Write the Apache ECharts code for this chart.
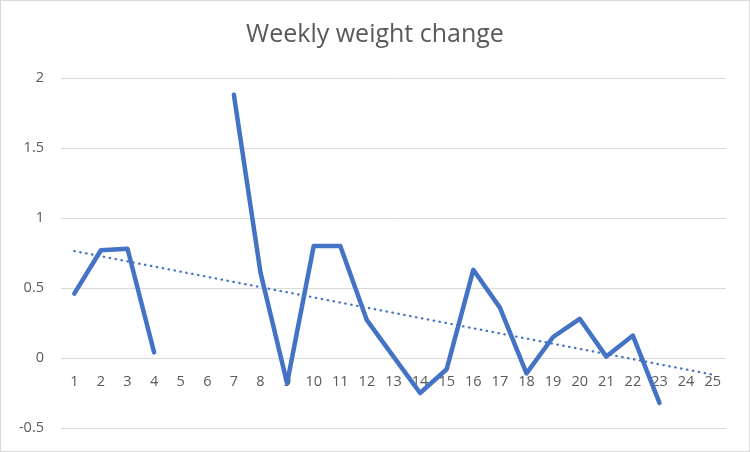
<!DOCTYPE html>
<html>
<head>
<meta charset="utf-8">
<script src="https://cdn.jsdelivr.net/npm/echarts@6/dist/echarts.min.js"></script>
<style>
  html, body { margin: 0; padding: 0; background: #fff; }
  #main { width: 750px; height: 452px; box-sizing: border-box; border: 1px solid #d9d9d9; }
</style>
</head>
<body>
<div id="main"></div>
<script>
// weeks 1..25, blank weeks are null
const weeks = ['1', '2', '3', '4', '5', '6', '7', '8', '9', '10', '11', '12', '13',
  '14', '15', '16', '17', '18', '19', '20', '21', '22', '23', '24', '25']
const weightChange = [0.46, 0.77, 0.78, 0.04, null, null, 1.88, 0.61, -0.18, 0.80, 0.80, 0.27, 0.01,
  -0.25, -0.08, 0.63, 0.36, -0.11, 0.15, 0.28, 0.01, 0.16, -0.32, null, null]
const yTicks = [-0.5, 0, 0.5, 1, 1.5, 2]

// linear trendline (least squares over the weeks that have a value)
const pts = []
weightChange.forEach(function (v, i) { if (v !== null) pts.push([i + 1, v]) })
const n = pts.length
const mx = pts.reduce(function (s, p) { return s + p[0] }, 0) / n
const my = pts.reduce(function (s, p) { return s + p[1] }, 0) / n
let sxy = 0, sxx = 0
pts.forEach(function (p) { sxy += (p[0] - mx) * (p[1] - my); sxx += (p[0] - mx) * (p[0] - mx) })
const slope = sxy / sxx
const intercept = my - slope * mx
const trend = weeks.map(function (w, i) { return +(intercept + slope * (i + 1)).toFixed(4) })

const textColor = '#595959'
const font = 'Open Sans'

// plot area (inside the 1px border)
const gridTop = 77
const gridBottom = 23
const plotHeight = 452 - 2 - gridTop - gridBottom
// the category labels sit on the zero line, like Excel does
const zeroOffset = -plotHeight * (0 - yTicks[0]) / (yTicks[yTicks.length - 1] - yTicks[0])

const myChart = echarts.init(document.getElementById('main'))
myChart.setOption({
  animation: false,
  backgroundColor: '#fff',
  title: {
    text: 'Weekly weight change',
    left: 'center',
    top: 16,
    textStyle: { color: textColor, fontFamily: font, fontSize: 25, fontWeight: 'normal' }
  },
  grid: { left: 60, right: 23, top: gridTop, bottom: gridBottom, containLabel: false, outerBoundsMode: 'none' },
  xAxis: {
    type: 'category',
    data: weeks,
    boundaryGap: true,
    position: 'bottom',
    offset: zeroOffset,
    axisLine: { show: false, onZero: false },
    axisTick: { show: false },
    axisLabel: { interval: 0, margin: 16, color: textColor, fontFamily: font, fontSize: 14.5 },
    splitLine: { show: false }
  },
  yAxis: {
    type: 'value',
    min: yTicks[0],
    max: yTicks[yTicks.length - 1],
    interval: 0.5,
    axisLine: { show: false },
    axisTick: { show: false },
    axisLabel: { margin: 17, color: textColor, fontFamily: font, fontSize: 14.5 },
    splitLine: { lineStyle: { color: '#d9d9d9', width: 1 } }
  },
  series: [
    {
      name: 'Weekly weight change',
      type: 'line',
      data: weightChange,
      connectNulls: false,
      showSymbol: false,
      symbol: 'none',
      lineStyle: { color: '#4472C4', width: 4.5, cap: 'round', join: 'round' },
      z: 3
    },
    {
      name: 'Linear trend',
      type: 'line',
      data: trend,
      showSymbol: false,
      symbol: 'none',
      lineStyle: { color: '#4472C4', width: 2.25, type: [0.5, 5.5], cap: 'round' },
      z: 2
    }
  ]
})
</script>
</body>
</html>
